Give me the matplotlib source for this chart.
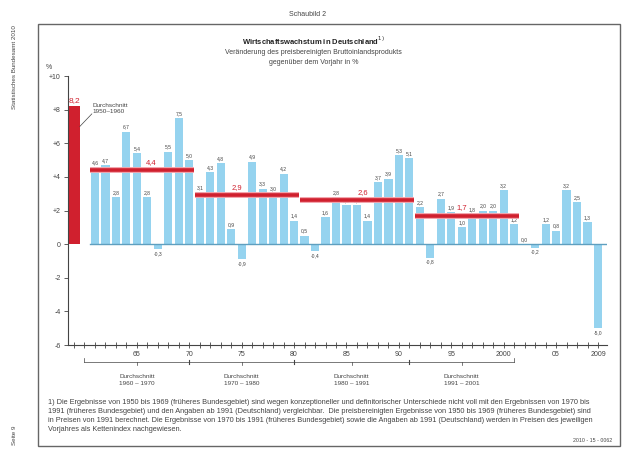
import matplotlib
matplotlib.use("Agg")
import matplotlib.pyplot as plt
from matplotlib.patches import Rectangle

plt.rcParams["font.family"] = ["Liberation Sans", "DejaVu Sans"]

# Veränderung des preisbereinigten BIP gegenüber Vorjahr in %
years = list(range(1961, 2010))
growth = [4.6, 4.7, 2.8, 6.7, 5.4, 2.8, -0.3, 5.5, 7.5, 5.0,
          3.1, 4.3, 4.8, 0.9, -0.9, 4.9, 3.3, 3.0, 4.2, 1.4,
          0.5, -0.4, 1.6, 2.8, 2.3, 2.3, 1.4, 3.7, 3.9, 5.3,
          5.1, 2.2, -0.8, 2.7, 1.9, 1.0, 1.8, 2.0, 2.0, 3.2,
          1.2, 0.0, -0.2, 1.2, 0.8, 3.2, 2.5, 1.3, -5.0]
avg_1950_1960 = 8.2
period_names = ["1960 – 1970", "1970 – 1980", "1980 – 1991", "1991 – 2001"]
period_first = [1961, 1971, 1981, 1992]
period_last = [1970, 1980, 1991, 2001]
period_avg = [4.4, 2.9, 2.6, 1.7]
label_x = [1966.4, 1974.5, 1986.6, 1996.0]
year_ticks = [1965, 1970, 1975, 1980, 1985, 1990, 1995, 2000, 2005, 2009]
year_ticklabels = ["65", "70", "75", "80", "85", "90", "95", "2000", "05", "2009"]

blue = "#95d3ef"
red = "#d0202e"
grey = "#444444"

fig = plt.figure(figsize=(6.27, 4.49), dpi=100)
ax = fig.add_axes([0.108, 0.2316, 0.860, 0.599])

# bars
ax.bar(years, growth, width=0.78, color=blue, zorder=2)
ax.bar(1959, avg_1950_1960, width=1.1, color=red, zorder=2)
ax.plot([1960.55, 2009.85], [0, 0], color="#5f9fbf", lw=1.0, zorder=3)

for x, v in zip(years, growth):
    txt = f"{v:.1f}".replace(".", ",")
    if v < 0:
        ax.text(x, v - 0.12, txt, ha="center", va="top", fontsize=3.6, color=grey)
    else:
        ax.text(x, v + 0.12, txt, ha="center", va="bottom", fontsize=3.6, color=grey)

ax.text(1959, avg_1950_1960 + 0.15, "8,2", ha="center", va="bottom",
        fontsize=6, color=red)
ax.text(1960.8, 7.75, "Durchschnitt\n1950–1960", ha="left", va="bottom",
        fontsize=4.6, color=grey, linespacing=1.3)
ax.plot([1959.55, 1960.7], [7.0, 7.75], color=grey, lw=0.5)

# averages of the periods
for a, b, v, lx in zip(period_first, period_last, period_avg, label_x):
    ax.plot([a - 0.45, b + 0.45], [v, v], color="#f3a0a8", lw=4.2,
            solid_capstyle="butt", zorder=4)
    ax.plot([a - 0.45, b + 0.45], [v, v], color=red, lw=2.6,
            solid_capstyle="butt", zorder=5)
    ax.text(lx, v + 0.25, f"{v:.1f}".replace(".", ","),
            ha="center", va="bottom", fontsize=5.5, color=red, zorder=6)

ax.set_xlim(1958.4, 2009.85)
ax.set_ylim(-6, 10)
for s in ["top", "right"]:
    ax.spines[s].set_visible(False)
ax.spines["left"].set_color(grey)
ax.spines["bottom"].set_color(grey)
ax.spines["left"].set_linewidth(0.8)
ax.spines["bottom"].set_linewidth(0.8)

ax.set_yticks(range(-6, 11, 2))
ax.set_yticklabels(["-6", "-4", "-2", "0", "+2", "+4", "+6", "+8", "+10"])
ax.set_xticks(year_ticks)
ax.set_xticklabels(year_ticklabels)
ax.set_xticks(range(1959, 2010), minor=True)
ax.tick_params(axis="y", length=3, width=0.6, labelsize=5, colors=grey, pad=2)
ax.tick_params(axis="x", which="both", direction="inout", length=4, width=0.6,
               labelsize=5, colors=grey, pad=2)
ax.text(-0.035, 1.02, "%", transform=ax.transAxes, ha="center", va="bottom",
        fontsize=5, color=grey)

# bracket for the average periods
yb = -7.0
ax.plot([1960, 2001], [yb, yb], color=grey, lw=0.5, clip_on=False)
for x in [1960, 2001]:
    ax.plot([x, x], [yb, yb + 0.2], color=grey, lw=0.5, clip_on=False)
for x in [1970, 1980, 1991]:
    ax.plot([x, x], [yb - 0.12, yb + 0.12], color=grey, lw=0.8, clip_on=False)
centers = [1965, 1975, 1985.5, 1996]
for c, name in zip(centers, period_names):
    ax.plot([c, c], [yb, yb - 0.2], color=grey, lw=0.5, clip_on=False)
    ax.text(c, yb - 0.75, "Durchschnitt\n" + name, ha="center", va="top",
            fontsize=4.6, color=grey, linespacing=1.45)

# frame and texts
fig.add_artist(Rectangle((38 / 627, 1 - 446 / 449), 582 / 627, 422 / 449,
                         transform=fig.transFigure, fill=False,
                         edgecolor="#666666", lw=1.0))
fig.text(0.49, 1 - 15 / 449, "Schaubild 2", ha="center", va="center",
         fontsize=5, color=grey)
fig.text(0.5, 1 - 41 / 449, "Wirtschaftswachstum in Deutschland$^{1)}$",
         ha="center", va="center", fontsize=5.5, color="#222222",
         fontweight="bold")
fig.text(0.5, 1 - 52 / 449, "Veränderung des preisbereinigten Bruttoinlandsprodukts",
         ha="center", va="center", fontsize=5, color=grey)
fig.text(0.5, 1 - 62 / 449, "gegenüber dem Vorjahr in %",
         ha="center", va="center", fontsize=5, color=grey)
fig.text(15 / 627, 1 - 25 / 449, "Statistisches Bundesamt 2010", rotation=90,
         ha="center", va="top", fontsize=4.5, color=grey)
fig.text(15 / 627, 1 - 445 / 449, "Seite 9", rotation=90,
         ha="center", va="bottom", fontsize=4.5, color=grey)

footnote = (
    "1) Die Ergebnisse von 1950 bis 1969 (früheres Bundesgebiet) sind wegen konzeptioneller "
    "und definitorischer Unterschiede nicht voll mit den Ergebnissen von 1970 bis\n"
    "1991 (früheres Bundesgebiet) und den Angaben ab 1991 (Deutschland) vergleichbar.  "
    "Die preisbereinigten Ergebnisse von 1950 bis 1969 (früheres Bundesgebiet) sind\n"
    "in Preisen von 1991 berechnet. Die Ergebnisse von 1970 bis 1991 (früheres Bundesgebiet) "
    "sowie die Angaben ab 1991 (Deutschland) werden in Preisen des jeweiligen\n"
    "Vorjahres als Kettenindex nachgewiesen."
)
fig.text(48 / 627, 1 - 399 / 449, footnote, ha="left", va="top", fontsize=5.3,
         color=grey, linespacing=1.4)
fig.text(612 / 627, 1 - 440 / 449, "2010 - 15 - 0062", ha="right", va="center",
         fontsize=3.8, color=grey)

fig.savefig("out.png", dpi=100)
